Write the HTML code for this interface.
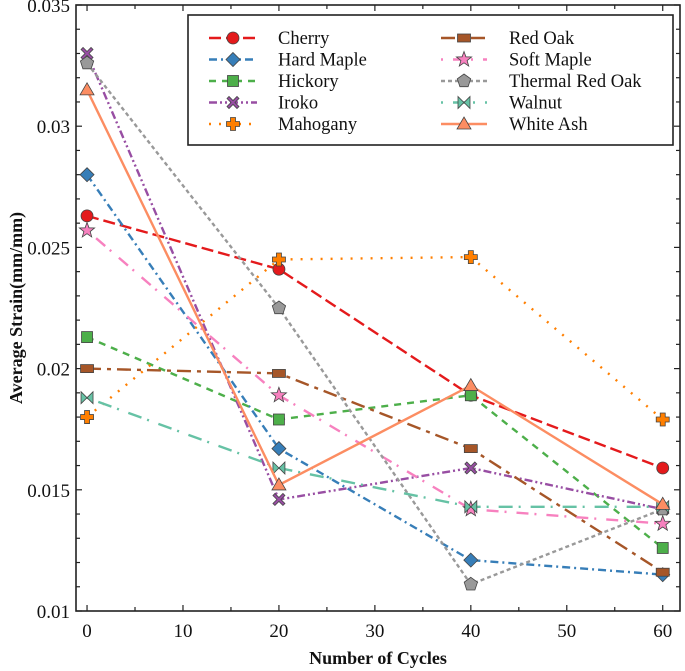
<!DOCTYPE html>
<html><head><meta charset="utf-8"><style>
html,body{margin:0;padding:0;background:#fff}
svg{display:block;font-family:"Liberation Serif",serif}
</style></head><body>
<svg id="chart" width="685" height="671" xmlns="http://www.w3.org/2000/svg"></svg>
<script>
const cycles=[0,20,40,60];
const names=["Cherry","Hard Maple","Hickory","Iroko","Mahogany","Red Oak","Soft Maple","Thermal Red Oak","Walnut","White Ash"];
const cherry=[0.0263,0.0241,0.0189,0.0159];
const hardMaple=[0.0280,0.0167,0.0121,0.0115];
const hickory=[0.0213,0.0179,0.0189,0.0126];
const iroko=[0.0330,0.0146,0.0159,0.0142];
const mahogany=[0.0180,0.0245,0.0246,0.0179];
const redOak=[0.0200,0.0198,0.0167,0.0116];
const softMaple=[0.0257,0.0189,0.0142,0.0136];
const thermalRedOak=[0.0326,0.0225,0.0111,0.0142];
const walnut=[0.0188,0.0159,0.0143,0.0143];
const whiteAsh=[0.0315,0.0152,0.0193,0.0144];
const xTicks=[0,10,20,30,40,50,60];
const yTicks=[0.01,0.015,0.02,0.025,0.03,0.035];
const yTickLabels=["0.01","0.015","0.02","0.025","0.03","0.035"];

const series=[cherry,hardMaple,hickory,iroko,mahogany,redOak,softMaple,thermalRedOak,walnut,whiteAsh];
const colors=["#e41a1c","#377eb8","#4daf4a","#984ea3","#ff7f00","#a65628","#f781bf","#999999","#66c2a5","#fc8d62"];
const dashes=["12,5","8,4,2,4","7,6","8,3,2,3,2,3","2,8","14,6,4,6","2,10,12,6","4,3","2,10,14,6",""];
const markers=["circle","diamond","square","x","plus","rect","star","pentagon","bowtie","triangle"];
const L=76,R=680,T=5,B=611,X0=-1.15,X1=61.8,Y0=0.01,Y1=0.035;
const sx=v=>L+(v-X0)/(X1-X0)*(R-L);
const sy=v=>B-(v-Y0)/(Y1-Y0)*(B-T);
const svg=document.getElementById('chart');
const NS="http://www.w3.org/2000/svg";
function mk(tag,attrs,parent){const e=document.createElementNS(NS,tag);for(const k in attrs)e.setAttribute(k,attrs[k]);(parent||svg).appendChild(e);return e;}
function marker(type,x,y,color,g){
  const st={fill:color,stroke:"#444","stroke-width":0.8};let e;
  if(type==="circle")e=mk("circle",Object.assign({cx:x,cy:y,r:6},st),g);
  else if(type==="diamond")e=mk("polygon",Object.assign({points:`${x},${y-7} ${x+7},${y} ${x},${y+7} ${x-7},${y}`},st),g);
  else if(type==="square")e=mk("rect",Object.assign({x:x-5.5,y:y-5.5,width:11,height:11},st),g);
  else if(type==="rect")e=mk("rect",Object.assign({x:x-6.5,y:y-4,width:13,height:8},st),g);
  else if(type==="x")e=mk("path",Object.assign({d:`M${x-6},${y-4}L${x-4},${y-6}L${x},${y-2}L${x+4},${y-6}L${x+6},${y-4}L${x+2},${y}L${x+6},${y+4}L${x+4},${y+6}L${x},${y+2}L${x-4},${y+6}L${x-6},${y+4}L${x-2},${y}Z`},st),g);
  else if(type==="plus")e=mk("path",Object.assign({d:`M${x-2.5},${y-6.5}h5v4h4v5h-4v4h-5v-4h-4v-5h4z`},st),g);
  else if(type==="star"){let p=[];for(let i=0;i<10;i++){const a=-Math.PI/2+i*Math.PI/5,r=i%2?3.3:8;p.push((x+r*Math.cos(a)).toFixed(1)+","+(y+r*Math.sin(a)).toFixed(1));}e=mk("polygon",Object.assign({points:p.join(" ")},st),g);}
  else if(type==="pentagon"){let p=[];for(let i=0;i<5;i++){const a=-Math.PI/2+i*2*Math.PI/5;p.push((x+7*Math.cos(a)).toFixed(1)+","+(y+7*Math.sin(a)).toFixed(1));}e=mk("polygon",Object.assign({points:p.join(" ")},st),g);}
  else if(type==="bowtie")e=mk("polygon",Object.assign({points:`${x-6},${y-6} ${x},${y} ${x+6},${y-6} ${x+6},${y+6} ${x},${y} ${x-6},${y+6}`},st),g);
  else e=mk("polygon",Object.assign({points:`${x},${y-7} ${x+7},${y+5} ${x-7},${y+5}`},st),g);
  return e;
}
const frame=mk("rect",{x:L,y:T,width:R-L,height:B-T,fill:"none",stroke:"#222","stroke-width":1.6});


for(let v=0;v<=60;v+=5){const x=sx(v),len=v%10===0?6:4;
  mk("line",{x1:x,y1:B,x2:x,y2:B-len,stroke:"#222","stroke-width":1.2});
  mk("line",{x1:x,y1:T,x2:x,y2:T+len,stroke:"#222","stroke-width":1.2});}
xTicks.forEach(v=>{const t=mk("text",{x:sx(v),y:B+26,"text-anchor":"middle","font-size":19,fill:"#111"});t.textContent=v;
  
  });
for(let i=0;i<=25;i++){const v=0.01+i*0.001,y=sy(v),len=i%5===0?6:4;
  mk("line",{x1:L,y1:y,x2:L+len,y2:y,stroke:"#222","stroke-width":1.2});
  mk("line",{x1:R,y1:y,x2:R-len,y2:y,stroke:"#222","stroke-width":1.2});}
yTicks.forEach((v,i)=>{const t=mk("text",{x:L-6,y:sy(v)+7,"text-anchor":"end","font-size":19,fill:"#111"});t.textContent=yTickLabels[i];
  
  });
const xt=mk("text",{x:(L+R)/2,y:664,"text-anchor":"middle","font-size":18,"font-weight":"bold",fill:"#111"});xt.textContent="Number of Cycles";


const yt=mk("text",{x:0,y:0,"text-anchor":"middle","font-size":18,"font-weight":"bold",fill:"#111",transform:`translate(22,${(T+B)/2}) rotate(-90)`});yt.textContent="Average Strain(mm/mm)";


series.forEach((vals,si)=>{
  const g=mk("g",{});
  
  
  const pts=vals.map((v,i)=>sx(cycles[i]).toFixed(1)+","+sy(v).toFixed(1)).join(" ");
  mk("polyline",{points:pts,fill:"none",stroke:colors[si],"stroke-width":2.4,"stroke-dasharray":dashes[si]},g);
  vals.forEach((v,i)=>{const m=marker(markers[si],sx(cycles[i]),sy(v),colors[si],g);
    
    });
});
const lg=mk("g",{});


mk("rect",{x:188,y:15,width:485,height:130,fill:"#fff",stroke:"#222","stroke-width":1.6},lg);
names.forEach((n,i)=>{
  const col=i<5?0:1,row=i%5;
  const x1=col?441:209,x2=col?487:257,tx=col?509:278,y=38+row*21.5;
  const eg=mk("g",{},lg);
  
  
  mk("line",{x1:x1,y1:y,x2:x2,y2:y,stroke:colors[i],"stroke-width":2.4,"stroke-dasharray":dashes[i]},eg);
  marker(markers[i],(x1+x2)/2,y,colors[i],eg);
  const t=mk("text",{x:tx,y:y+6,"font-size":18.5,fill:"#111"},eg);t.textContent=n;
});
</script>
</body></html>
